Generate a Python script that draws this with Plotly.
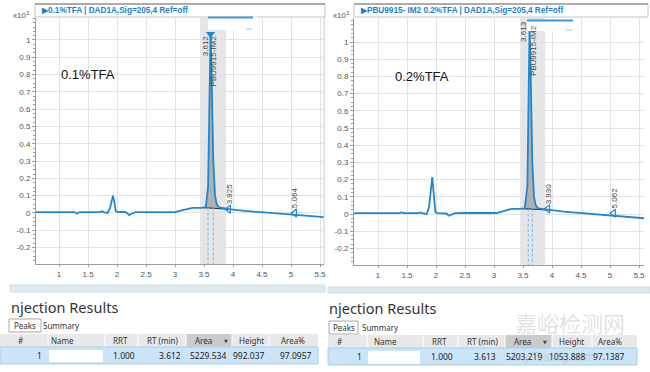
import plotly.graph_objects as go

# ---------------- data ----------------
x_tick_vals = [1.0, 1.5, 2.0, 2.5, 3.0, 3.5, 4.0, 4.5, 5.0, 5.5]
x_tick_text = ["1", "1.5", "2", "2.5", "3", "3.5", "4", "4.5", "5", "5.5"]
y_tick_vals = [-0.2, -0.1, 0.0, 0.1, 0.2, 0.3, 0.4, 0.5, 0.6, 0.7, 0.8, 0.9, 1.0]
y_tick_text = ["-0.2", "-0.1", "0", "0.1", "0.2", "0.3", "0.4", "0.5", "0.6", "0.7", "0.8", "0.9", "1"]

# Left chromatogram: 0.1% TFA  (retention time, min  /  signal, x10^3 mAU)
left_rt = [0.60, 1.00, 1.27, 1.31, 1.35, 1.70, 1.74, 1.78, 1.84, 1.88, 1.91, 1.93, 1.95, 1.98,
           2.02, 2.10, 2.16, 2.21, 2.26, 2.32, 2.50, 3.00, 3.08, 3.18, 3.30, 3.45, 3.53, 3.57,
           3.59, 3.60, 3.612, 3.625, 3.64, 3.66, 3.69, 3.72, 3.76, 3.85, 3.93, 4.20, 4.60,
           5.06, 5.30, 5.60]
left_sig = [0.005, 0.005, 0.005, -0.004, 0.005, 0.005, 0.010, 0.004, 0.000, 0.030, 0.080, 0.100,
            0.070, 0.010, 0.005, 0.007, 0.004, -0.012, -0.003, 0.005, 0.005, 0.005, 0.012, 0.022,
            0.030, 0.030, 0.033, 0.150, 0.550, 0.850, 1.020, 0.900, 0.600, 0.300, 0.100, 0.050,
            0.032, 0.027, 0.022, 0.012, 0.000, -0.012, -0.017, -0.025]

# Right chromatogram: 0.2% TFA
right_rt = [0.59, 1.00, 1.38, 1.41, 1.44, 1.70, 1.73, 1.76, 1.84, 1.88, 1.91, 1.935, 1.96, 1.99,
            2.03, 2.12, 2.18, 2.22, 2.27, 2.33, 2.50, 3.05, 3.12, 3.20, 3.30, 3.45, 3.53, 3.575,
            3.595, 3.605, 3.613, 3.625, 3.64, 3.66, 3.69, 3.72, 3.76, 3.85, 3.93, 4.20, 4.60,
            5.06, 5.30, 5.60]
right_sig = [0.005, 0.005, 0.005, 0.010, 0.005, 0.005, 0.009, 0.005, 0.000, 0.040, 0.140, 0.215,
             0.120, 0.010, 0.005, 0.006, 0.003, -0.010, -0.002, 0.005, 0.006, 0.006, 0.013, 0.022,
             0.030, 0.030, 0.033, 0.160, 0.600, 0.900, 1.090, 0.950, 0.650, 0.300, 0.100, 0.050,
             0.033, 0.028, 0.025, 0.014, 0.002, -0.013, -0.018, -0.025]

left_title = "▶0.1%TFA | DAD1A,Sig=205,4 Ref=off"
right_title = "▶PBU9915- IM2 0.2%TFA | DAD1A,Sig=205,4 Ref=off"
left_label = "0.1%TFA"
right_label = "0.2%TFA"
peak_name = "PBU9915-IM2"

left_peak_rt, left_peak_label = 3.612, "3.612"
right_peak_rt, right_peak_label = 3.613, "3.613"
left_peak_top = 1.035

left_base_rt = [3.50, 3.93]
left_base_sig = [0.031, 0.022]
right_base_rt = [3.50, 3.93]
right_base_sig = [0.031, 0.024]

left_marks_rt = [3.925, 5.064]
left_marks_sig = [0.022, 0.000]
left_marks_txt = ["3.925", "5.064"]
right_marks_rt = [3.930, 5.062]
right_marks_sig = [0.030, 0.004]
right_marks_txt = ["3.930", "5.062"]

left_window = [3.43, 3.88]
right_window = [3.45, 3.88]
left_dashes = [3.57, 3.66]
right_dashes = [3.59, 3.66]

table_columns = ["#", "Name", "RRT", "RT (min)", "Area", "Height", "Area%"]
left_row = ["1", "", "1.000", "3.612", "5229.534", "992.037", "97.0957"]
right_row = ["1", "", "1.000", "3.613", "5203.219", "1053.888", "97.1387"]

# ---------------- layout helpers ----------------
W, H = 650, 372
def px(x):
    return x / W
def py(y):
    return 1 - y / H

BLUE = "#1f86d6"
GRID = "#e2e2e2"
AX = "#9c9c9c"
TICKF = dict(family="Liberation Sans, Arial", size=8, color="#555555")

fig = go.Figure()

def add_panel(xr, yr, rt, sig, base_rt, base_sig, marks_rt, marks_sig):
    fx = [x for x in rt if 3.52 <= x <= 3.77]
    fy = [y for x, y in zip(rt, sig) if 3.52 <= x <= 3.77]
    fig.add_trace(go.Scatter(x=fx, y=fy, xaxis=xr, yaxis=yr, mode="lines", fill="toself",
                             fillcolor="rgba(110,110,110,0.45)", line=dict(width=0),
                             hoverinfo="skip", showlegend=False))
    fig.add_trace(go.Scatter(x=base_rt, y=base_sig, xaxis=xr, yaxis=yr, mode="lines",
                             line=dict(color="#333333", width=1.2), hoverinfo="skip",
                             showlegend=False))
    fig.add_trace(go.Scatter(x=rt, y=sig, xaxis=xr, yaxis=yr, mode="lines",
                             line=dict(color=BLUE, width=1.8), showlegend=False))
    fig.add_trace(go.Scatter(x=marks_rt, y=marks_sig, xaxis=xr, yaxis=yr, mode="markers",
                             marker=dict(symbol="triangle-left-open", size=7, color=BLUE,
                                         line=dict(width=1.2, color=BLUE)),
                             showlegend=False, hoverinfo="skip"))

add_panel("x", "y", left_rt, left_sig, left_base_rt, left_base_sig, left_marks_rt, left_marks_sig)
add_panel("x2", "y2", right_rt, right_sig, right_base_rt, right_base_sig, right_marks_rt, right_marks_sig)

fig.add_trace(go.Scatter(x=[left_peak_rt], y=[left_peak_top], xaxis="x", yaxis="y",
                         mode="markers", marker=dict(symbol="triangle-down", size=8, color=BLUE),
                         showlegend=False, hoverinfo="skip"))

shapes = []
annotations = []

def note(x, y, text, font, xanchor="center", yanchor="middle", xref="paper", yref="paper", **kw):
    d = dict(xref=xref, yref=yref, x=x, y=y, text=text, showarrow=False, xanchor=xanchor,
             yanchor=yanchor, font=font)
    d.update(kw)
    annotations.append(d)

for xr, yr, win, dashes, base in [("x", "y", left_window, left_dashes, left_base_sig[0]),
                                  ("x2", "y2", right_window, right_dashes, right_base_sig[0])]:
    shapes.append(dict(type="rect", xref=xr, yref=yr + " domain", x0=win[0], x1=win[1],
                       y0=0, y1=1, fillcolor="#e6e6e6", line=dict(width=0), layer="below"))
    for d in dashes:
        shapes.append(dict(type="line", xref=xr, yref=yr, x0=d, x1=d, y0=base, y1=-0.3,
                           line=dict(color="#7dbbec", width=1.1, dash="3px,2px")))

shapes.append(dict(type="line", xref="paper", yref="paper", x0=px(324), x1=px(324),
                   y0=py(264), y1=py(17), line=dict(color="#c8c8c8", width=1)))

# title bars
for x0, x1, txt in [(35, 325, left_title), (354, 648, right_title)]:
    shapes.append(dict(type="rect", xref="paper", yref="paper", x0=px(x0), x1=px(x1),
                       y0=py(17), y1=py(4), fillcolor="white", line=dict(color="#c4c4c4", width=1)))
    shapes.append(dict(type="line", xref="paper", yref="paper", x0=px(x0), x1=px(x1),
                       y0=py(4), y1=py(4), line=dict(color="#9a9a9a", width=1.5)))
    note(px(x0 + 4), py(10.5), "<b>" + txt + "</b>",
         dict(family="Liberation Sans, Arial", size=8.2, color="#1a7fd4"), xanchor="left")

for xr in [31, 351]:
    note(px(xr), py(15), "x10<sup>3</sup>",
         dict(family="Liberation Sans, Arial", size=8, color="#555555"), xanchor="right")

# top popup boxes
for x0, x1, y0, y1 in [(208, 258, 17, 30), (527, 578, 20, 31)]:
    shapes.append(dict(type="rect", xref="paper", yref="paper", x0=px(x0), x1=px(x1),
                       y0=py(y1), y1=py(y0), fillcolor="white", line=dict(width=0)))
    shapes.append(dict(type="line", xref="paper", yref="paper", x0=px(x0), x1=px(x1 - 5),
                       y0=py(y0 + 0.5), y1=py(y0 + 0.5), line=dict(color="#3a98e0", width=2)))
    shapes.append(dict(type="line", xref="paper", yref="paper", x0=px(x1 - 12), x1=px(x1 - 6),
                       y0=py(y1 - 1), y1=py(y1 - 1), line=dict(color="#8cc4ef", width=1)))

LBL = dict(family="Liberation Sans, Arial", size=13, color="#111111")
note(1.0, 0.8, left_label, LBL, xanchor="left", xref="x", yref="y")
note(1.26, 0.8, right_label, LBL, xanchor="left", xref="x2", yref="y2")

VF = dict(family="Liberation Sans, Arial", size=8, color="#444444")
note(3.52, 0.965, left_peak_label, VF, xref="x", yref="y", textangle=-90)
note(3.67, 0.88, peak_name, VF, xref="x", yref="y", textangle=-90)
note(3.52, 1.06, right_peak_label, VF, xref="x2", yref="y2", textangle=-90)
note(3.68, 0.95, peak_name, VF, xref="x2", yref="y2", textangle=-90)
for xr, yr, mrt, msig, mtxt in [("x", "y", left_marks_rt, left_marks_sig, left_marks_txt),
                                ("x2", "y2", right_marks_rt, right_marks_sig, right_marks_txt)]:
    for r, s, t in zip(mrt, msig, mtxt):
        note(r + 0.01, s + 0.015, t, VF, yanchor="bottom", xref=xr, yref=yr, textangle=-90)

# ---------------- results tables ----------------
TF = dict(family="Noto Sans, DejaVu Sans", size=8, color="#333333")
tables = [
    dict(bar=(10, 325, 285, 292), title_x=9, title_y=307, tab=(9, 41, 319, 332), sum_x=61,
         hdr=(0, 318, 334, 347), row=(0, 318, 347, 364), bounds=[0, 48, 105, 138, 186, 232, 269, 318],
         centers=[20, 63, 121, 163, 203, 251, 293], arrow=226,
         rights=[44, None, 137, 183, 228, 267, 314], blob=(49, 103, 350, 362), values=left_row),
    dict(bar=(328, 650, 287, 293), title_x=327, title_y=308, tab=(329, 358, 321, 334), sum_x=380,
         hdr=(328, 637, 335, 348), row=(328, 637, 348, 365), bounds=[328, 367, 423, 458, 505, 552, 592, 637],
         centers=[339, 385, 439, 482, 522, 571, 610], arrow=545,
         rights=[364, None, 455, 498, 544, 587, 627], blob=(368, 420, 351, 364), values=right_row),
]
for tb in tables:
    b = tb["bar"]
    shapes.append(dict(type="rect", xref="paper", yref="paper", x0=px(b[0]), x1=px(b[1]),
                       y0=py(b[3]), y1=py(b[2]), fillcolor="#dde9f3", line=dict(color="#cfdde9", width=1)))
    note(px(tb["title_x"]), py(tb["title_y"]), "njection Results",
         dict(family="Noto Sans, Open Sans", size=14.5, color="#333333"), xanchor="left")
    t = tb["tab"]
    shapes.append(dict(type="rect", xref="paper", yref="paper", x0=px(t[0]), x1=px(t[1]),
                       y0=py(t[3]), y1=py(t[2]), fillcolor="white", line=dict(color="#aaaaaa", width=1)))
    note(px((t[0] + t[1]) / 2), py((t[2] + t[3]) / 2), "Peaks", TF)
    note(px(tb["sum_x"]), py((t[2] + t[3]) / 2), "Summary", TF)
    hd = tb["hdr"]
    shapes.append(dict(type="rect", xref="paper", yref="paper", x0=px(hd[0]), x1=px(hd[1]),
                       y0=py(hd[3]), y1=py(hd[2]), fillcolor="#e8e8e8", line=dict(width=0)))
    bd = tb["bounds"]
    shapes.append(dict(type="rect", xref="paper", yref="paper", x0=px(bd[4]), x1=px(bd[5]),
                       y0=py(hd[3]), y1=py(hd[2]), fillcolor="#cbcbcb", line=dict(width=0)))
    for xb in bd[1:-1]:
        shapes.append(dict(type="line", xref="paper", yref="paper", x0=px(xb), x1=px(xb),
                           y0=py(hd[3]), y1=py(hd[2]), line=dict(color="white", width=1)))
    for c, name in zip(tb["centers"], table_columns):
        note(px(c), py((hd[2] + hd[3]) / 2), name, TF)
    note(px(tb["arrow"]), py((hd[2] + hd[3]) / 2), "▼",
         dict(family="DejaVu Sans", size=5, color="#444444"))
    rw = tb["row"]
    shapes.append(dict(type="rect", xref="paper", yref="paper", x0=px(rw[0]), x1=px(rw[1]),
                       y0=py(rw[3]), y1=py(rw[2]), fillcolor="#cbe5f6", line=dict(color="#a6cfec", width=1)))
    bl = tb["blob"]
    shapes.append(dict(type="rect", xref="paper", yref="paper", x0=px(bl[0]), x1=px(bl[1]),
                       y0=py(bl[3]), y1=py(bl[2]), fillcolor="white", line=dict(width=0)))
    for r, v in zip(tb["rights"], tb["values"]):
        if r is None or v == "":
            continue
        note(px(r), py((rw[2] + rw[3]) / 2), v,
             dict(family="Noto Sans, DejaVu Sans", size=8.5, color="#222222"), xanchor="right")

# watermark
note(px(570), py(322), "嘉峪检测网", dict(family="Noto Sans CJK SC", size=22, color="rgba(150,150,150,0.28)"))
note(px(552), py(357), "<i>AnyTesting.com</i>", dict(family="Liberation Sans", size=12,
                                                     color="rgba(150,150,150,0.3)"))

def xaxis(domain, rng, anchor):
    return dict(domain=domain, range=rng, anchor=anchor, tickmode="array", tickvals=x_tick_vals,
                ticktext=x_tick_text, showgrid=True, gridcolor=GRID, zeroline=False, showline=True,
                linecolor=AX, ticks="outside", ticklen=2, tickcolor=AX, tickfont=TICKF,
                automargin=False, fixedrange=True)

def yaxis(domain, rng, anchor):
    return dict(domain=domain, range=rng, anchor=anchor, tickmode="array", tickvals=y_tick_vals,
                ticktext=y_tick_text, showgrid=True, gridcolor=GRID, zeroline=False, showline=True,
                linecolor=AX, ticks="outside", ticklen=3, tickcolor=AX, tickfont=TICKF,
                minor=dict(tickmode="linear", tick0=0, dtick=0.025, ticklen=2, tickcolor=AX,
                           showgrid=False, ticks="outside"),
                automargin=False, fixedrange=True)

fig.update_layout(
    width=W, height=H, margin=dict(l=0, r=0, t=0, b=0),
    paper_bgcolor="white", plot_bgcolor="white", showlegend=False,
    xaxis=xaxis([px(36), px(324)], [0.603, 5.569], "y"),
    yaxis=yaxis([py(264), py(18)], [-0.295, 1.127], "x"),
    xaxis2=xaxis([px(354), px(644)], [0.586, 5.586], "y2"),
    yaxis2=yaxis([py(265), py(18)], [-0.2965, 1.14], "x2"),
    shapes=shapes, annotations=annotations,
)

fig.write_html("out.html", config={"displayModeBar": False},
               post_script="document.body.style.margin='0';document.body.style.padding='0';")
